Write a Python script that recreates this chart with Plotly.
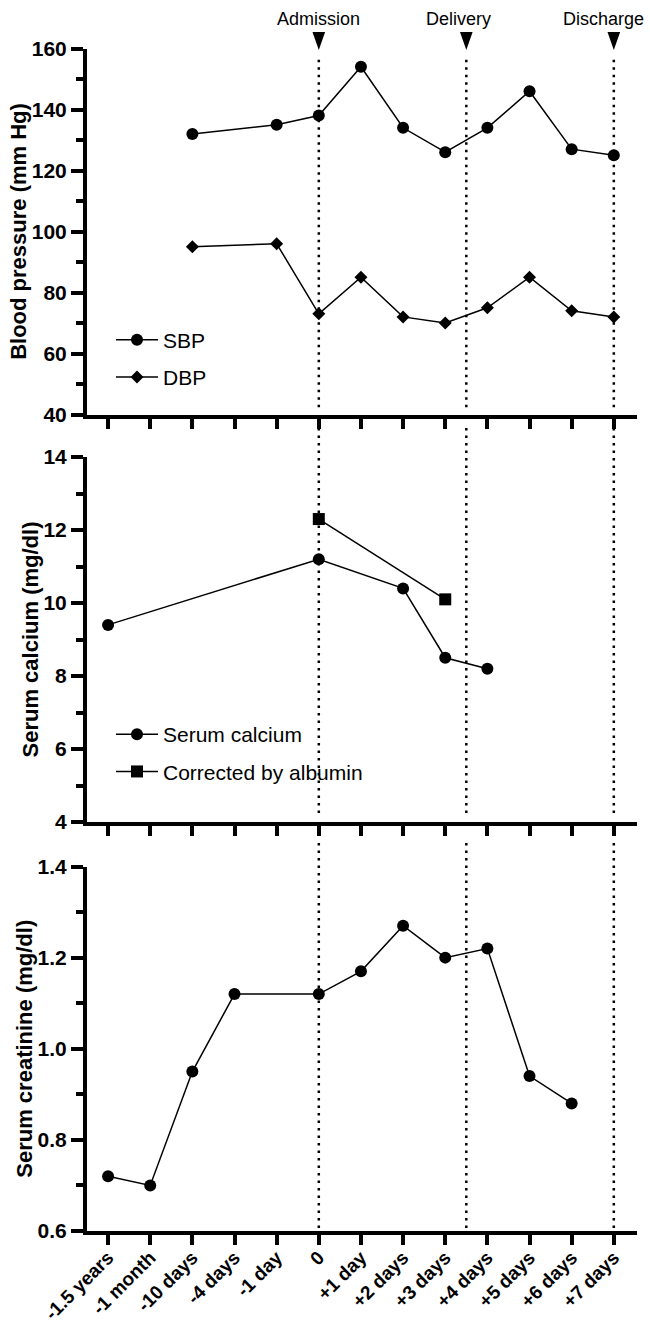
import plotly.graph_objects as go

# ---------------- data ----------------
categories = ["-1.5 years", "-1 month", "-10 days", "-4 days", "-1 day", "0",
              "+1 day", "+2 days", "+3 days", "+4 days", "+5 days", "+6 days", "+7 days"]
sbp = [None, None, 132, None, 135, 138, 154, 134, 126, 134, 146, 127, 125]
dbp = [None, None, 95, None, 96, 73, 85, 72, 70, 75, 85, 74, 72]
serum_calcium = [9.4, None, None, None, None, 11.2, None, 10.4, 8.5, 8.2, None, None, None]
calcium_corrected = [None, None, None, None, None, 12.3, None, None, 10.1, None, None, None, None]
creatinine = [0.72, 0.70, 0.95, 1.12, None, 1.12, 1.17, 1.27, 1.20, 1.22, 0.94, 0.88, None]
event_labels = ["Admission", "Delivery", "Discharge"]
event_pos = [5, 8.5, 12]  # category positions (Delivery between +3 and +4 days)

# ---------------- style / layout constants ----------------
W, H = 650, 1328
ML, MR, MT, MB = 87, 13, 0, 97
PH = H - MT - MB  # plot-area height in px


def pf(py):
    """pixel y (from top of page) -> paper fraction"""
    return (H - MB - py) / PH


FONT = "Liberation Sans, Arial, sans-serif"
BLACK = "black"
x = list(range(len(categories)))
line_style = dict(color=BLACK, width=1.5)

dom1 = [pf(414.5), pf(48.5)]
dom2 = [pf(822), pf(457)]
dom3 = [pf(1231), pf(866.5)]

fig = go.Figure()

fig.add_trace(go.Scatter(x=x, y=sbp, name="SBP", mode="lines+markers", connectgaps=True,
                         line=line_style, marker=dict(symbol="circle", size=12, color=BLACK),
                         xaxis="x", yaxis="y", legend="legend", legendgroup="sbp"))
fig.add_trace(go.Scatter(x=x, y=dbp, name="DBP", mode="lines+markers", connectgaps=True,
                         line=line_style, marker=dict(symbol="diamond", size=10, color=BLACK),
                         xaxis="x", yaxis="y", legend="legend", legendgroup="dbp"))
fig.add_trace(go.Scatter(x=x, y=serum_calcium, name="Serum calcium", mode="lines+markers",
                         connectgaps=True, line=line_style,
                         marker=dict(symbol="circle", size=12, color=BLACK),
                         xaxis="x2", yaxis="y2", legend="legend2", legendgroup="ca"))
fig.add_trace(go.Scatter(x=x, y=calcium_corrected, name="Corrected by albumin", mode="lines+markers",
                         connectgaps=True, line=line_style,
                         marker=dict(symbol="square", size=12, color=BLACK),
                         xaxis="x2", yaxis="y2", legend="legend2", legendgroup="cac"))
fig.add_trace(go.Scatter(x=x, y=creatinine, name="Serum creatinine", mode="lines+markers",
                         connectgaps=True, line=line_style,
                         marker=dict(symbol="circle", size=12, color=BLACK),
                         xaxis="x3", yaxis="y3", showlegend=False))

ytickfont = dict(family=FONT, size=21, color=BLACK, weight="bold")
xtickfont = dict(family=FONT, size=19, color=BLACK, weight="bold")
titlefont = dict(family=FONT, size=22, color=BLACK, weight="bold")


def yax(domain, rng, dtick, mdtick, title, anchor, fmt=None):
    d = dict(domain=domain, range=rng, tick0=rng[0], dtick=dtick, anchor=anchor,
             automargin=False,
             showline=True, linewidth=4, linecolor=BLACK, mirror=False,
             ticks="outside", ticklen=12, tickwidth=3.5, tickcolor=BLACK,
             showgrid=False, zeroline=False, tickfont=ytickfont,
             title=dict(text=title, font=titlefont, standoff=0),
             minor=dict(tick0=rng[0], dtick=mdtick, ticks="outside", ticklen=7,
                        tickwidth=3.5, tickcolor=BLACK, showgrid=False))
    if fmt:
        d["tickformat"] = fmt
    return d


def xax(anchor, labels):
    return dict(range=[-0.5, 12.55], anchor=anchor, domain=[0, 1], automargin=False,
                tickmode="array", tickvals=x, ticktext=categories,
                showticklabels=labels, tickangle=-45, tickfont=xtickfont,
                ticklabelstandoff=-6,
                showline=True, linewidth=4, linecolor=BLACK,
                ticks="outside", ticklen=10, tickwidth=4, tickcolor=BLACK,
                showgrid=False, zeroline=False)


legend_common = dict(xanchor="left", yanchor="middle", font=dict(family=FONT, size=21, color=BLACK),
                     itemwidth=42, bgcolor="rgba(0,0,0,0)", traceorder="grouped",
                     tracegroupgap=7, borderwidth=0)

fig.update_layout(
    template="none",
    width=W, height=H,
    margin=dict(l=ML, r=MR, t=MT, b=MB, pad=0, autoexpand=False),
    paper_bgcolor="white", plot_bgcolor="white",
    font=dict(family=FONT, color=BLACK),
    xaxis=xax("y", False),
    xaxis2=xax("y2", False),
    xaxis3=xax("y3", True),
    yaxis=yax(dom1, [40, 160], 20, 10, "Blood pressure (mm Hg)", "x"),
    yaxis2=yax(dom2, [4, 14], 2, 1, "Serum calcium (mg/dl)", "x2"),
    yaxis3=yax(dom3, [0.6, 1.4], 0.2, 0.1, "Serum creatinine (mg/dl)", "x3", fmt=".1f"),
    legend=dict(x=(111 - ML) / (W - ML - MR), y=pf(358.5), **legend_common),
    legend2=dict(x=(111 - ML) / (W - ML - MR), y=pf(753), **legend_common),
    showlegend=True,
)

# event reference lines (dotted), drawn per panel
panel_spans = [("x", "y domain", 0.02, 0.974),
               ("x2", "y2 domain", 0.025, 1.08),
               ("x3", "y3 domain", 0.008, 1.073)]
for ex in event_pos:
    for xr, yr, y0, y1 in panel_spans:
        fig.add_shape(type="line", xref=xr, yref=yr, x0=ex, x1=ex, y0=y0, y1=y1,
                      line=dict(color=BLACK, width=2.5, dash="2.5px,5px"), layer="below")

# event markers (tall downward triangles) and labels
tri_half = 0.15
text_shift = [0, -8, -10]
for ex, lab, sh in zip(event_pos, event_labels, text_shift):
    fig.add_shape(type="path", xref="x", yref="paper",
                  path=f"M {ex - tri_half},{pf(32)} L {ex + tri_half},{pf(32)} L {ex},{pf(50)} Z",
                  fillcolor=BLACK, line=dict(color=BLACK, width=0))
    fig.add_annotation(x=ex, xref="x", y=pf(19), yref="paper", text=lab, showarrow=False,
                       xanchor="center", yanchor="middle", xshift=sh,
                       font=dict(family=FONT, size=18, color=BLACK))

fig.write_html("out.html", config={"displayModeBar": False},
               post_script="document.body.style.margin='0';document.body.style.overflow='hidden';")
